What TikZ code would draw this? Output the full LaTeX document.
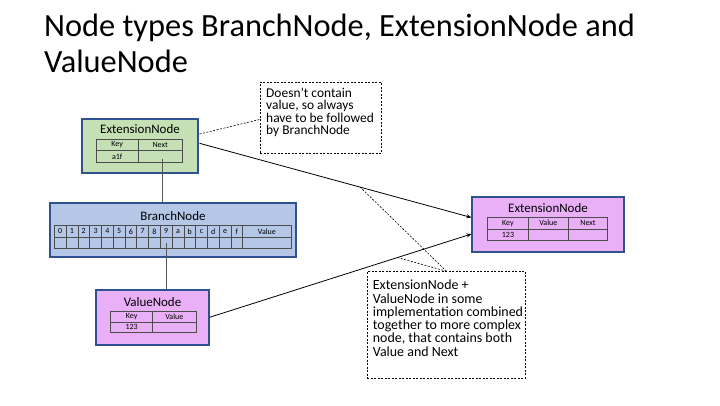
\documentclass[tikz,border=0pt]{standalone}
\usepackage{fontspec}
\setmainfont{Carlito}
\usetikzlibrary{calc,arrows.meta}
\definecolor{greenfill}{HTML}{C5E0B4}
\definecolor{bluefill}{HTML}{B4C7E7}
\definecolor{purplefill}{HTML}{EAB0F7}
\definecolor{boxborder}{HTML}{2F528F}
\definecolor{linkgray}{HTML}{595959}
\begin{document}
\begin{tikzpicture}[x=1bp,y=-1bp,
  nodebox/.style={draw=boxborder, line width=1.1bp, inner sep=0pt},
  headtext/.style={font=\fontsize{13}{15}\selectfont, inner sep=0pt},
  cell/.style={draw=black!70, line width=0.7bp, inner sep=0pt, font=\fontsize{8}{9}\selectfont},
  callbox/.style={draw=black, line width=0.8bp, dash pattern=on 2bp off 1.5bp, inner sep=0pt},
  calltext/.style={inner sep=0pt, anchor=north west, align=left},
  arrowline/.style={draw=black, line width=0.8bp, -{Stealth[length=5bp,width=4bp]}},
  pointer/.style={draw=black, line width=0.6bp, dash pattern=on 2bp off 1.5bp},
  treelink/.style={draw=linkgray, line width=1.3bp}
]
\useasboundingbox (0,0) rectangle (720,405);
\fill[white] (0,0) rectangle (720,405);

% title
\node[inner sep=0pt, anchor=north west, align=left, font=\fontsize{32.5}{36.5}\selectfont] (title) at (44,13.5)
  {Node types BranchNode, ExtensionNode and\\ValueNode};

% ExtensionNode (left)
\node[nodebox, fill=greenfill, minimum width=116bp, minimum height=54bp] (ext1) at (140,146) {};
\node[headtext] (ext1t) at (140,129) {ExtensionNode};
\node[cell, minimum width=42.3bp, minimum height=11.5bp] (ext1k) at (117.15,145.05) {Key};
\node[cell, minimum width=43.7bp, minimum height=11.5bp] (ext1n) at (160.15,145.05) {Next};
\node[cell, minimum width=42.3bp, minimum height=11.5bp] (ext1kv) at (117.15,156.55) {a1f};
\node[cell, minimum width=43.7bp, minimum height=11.5bp] (ext1nv) at (160.15,156.55) {};

% BranchNode
\node[nodebox, fill=bluefill, minimum width=246bp, minimum height=54bp] (branch) at (173,230) {};
\node[headtext] (brancht) at (173,215.7) {BranchNode};
\foreach \lab [count=\i from 0] in {0,1,2,3,4,5,6,7,8,9,a,b,c,d,e,f} {
  \node[cell, minimum width=11.78bp, minimum height=11.3bp] (bk\i) at ({54.3+11.78*(\i+0.5)},231.35) {\lab};
  \node[cell, minimum width=11.78bp, minimum height=11.3bp] (bv\i) at ({54.3+11.78*(\i+0.5)},242.65) {};
}
\node[cell, minimum width=48.2bp, minimum height=11.3bp] (bkval) at (266.9,231.35) {Value};
\node[cell, minimum width=48.2bp, minimum height=11.3bp] (bvval) at (266.9,242.65) {};

% ValueNode
\node[nodebox, fill=purplefill, minimum width=113bp, minimum height=55bp] (val) at (152.5,317.5) {};
\node[headtext] (valt) at (152.5,301.7) {ValueNode};
\node[cell, minimum width=42bp, minimum height=10.3bp] (valk) at (131.7,316.85) {Key};
\node[cell, minimum width=43.3bp, minimum height=10.3bp] (valv) at (174.35,316.85) {Value};
\node[cell, minimum width=42bp, minimum height=10.3bp] (valkv) at (131.7,327.15) {123};
\node[cell, minimum width=43.3bp, minimum height=10.3bp] (valvv) at (174.35,327.15) {};

% ExtensionNode (right)
\node[nodebox, fill=purplefill, minimum width=152bp, minimum height=55bp] (ext2) at (548,224.5) {};
\node[headtext] (ext2t) at (548,207.7) {ExtensionNode};
\node[cell, minimum width=40.6bp, minimum height=11.5bp] (ext2k) at (508,223.25) {Key};
\node[cell, minimum width=40bp, minimum height=11.5bp] (ext2v) at (548.3,223.25) {Value};
\node[cell, minimum width=39.4bp, minimum height=11.5bp] (ext2n) at (588,223.25) {Next};
\node[cell, minimum width=40.6bp, minimum height=11.5bp] (ext2kv) at (508,234.75) {123};
\node[cell, minimum width=40bp, minimum height=11.5bp] (ext2vv) at (548.3,234.75) {};
\node[cell, minimum width=39.4bp, minimum height=11.5bp] (ext2nv) at (588,234.75) {};

% callouts
\node[callbox, minimum width=121bp, minimum height=71bp] (callA) at (320.5,117.5) {};
\node[calltext, font=\fontsize{13.5}{12.3}\selectfont] (callAt) at (266,88)
  {Doesn’t contain\\value, so always\\have to be followed\\by BranchNode};
\node[callbox, minimum width=158.4bp, minimum height=106.3bp] (callB) at (446.5,324.85) {};
\node[calltext, font=\fontsize{14}{13.3}\selectfont] (callBt) at (372.7,280)
  {ExtensionNode +\\ValueNode in some\\implementation combined\\together to more complex\\node, that contains both\\Value and Next};

% tree links
\coordinate (linkA) at ($(ext1nv.center)+(2.5,2.5)$);
\coordinate (linkB) at (bv9.center);
\draw[treelink] (linkA) -- (linkA |- branch.north);
\draw[treelink] (linkB) -- (linkB |- val.north);

% arrows
\draw[arrowline] ($(ext1.east)+(1,-2.7)$) -- coordinate[pos=0.591] (pA) ($(ext2.west)+(0,-7)$);
\draw[arrowline] ($(val.east)+(0,-0.2)$) -- coordinate[pos=0.7175] (pB) ($(ext2.west)+(0,9.5)$);

% pointers
\draw[pointer] ($(ext1.east)+(1,-12)$) -- ($(callA.west)+(0,2)$);
\draw[pointer] (callB.north) -- (pA);
\draw[pointer] (callB.north) -- (pB);
\end{tikzpicture}
\end{document}
